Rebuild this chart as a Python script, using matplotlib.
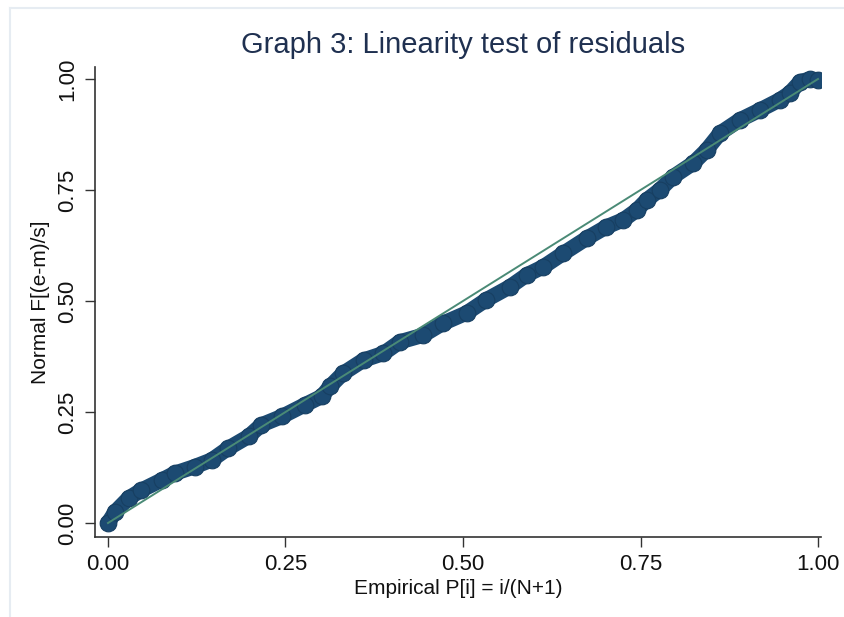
import matplotlib
matplotlib.use("Agg")
import matplotlib.pyplot as plt
from matplotlib.lines import Line2D

# Empirical P[i] (x) and Normal F[(e-m)/s] (y)
emp_p = [0.000, 0.010, 0.029, 0.047, 0.076, 0.094, 0.122, 0.146, 0.169, 0.198,
         0.216, 0.245, 0.277, 0.301, 0.313, 0.331, 0.360, 0.388, 0.411, 0.444,
         0.472, 0.505, 0.533, 0.566, 0.590, 0.613, 0.641, 0.674, 0.702, 0.726,
         0.745, 0.759, 0.777, 0.796, 0.824, 0.843, 0.862, 0.890, 0.918, 0.946,
         0.960, 0.975, 0.989, 1.000]
norm_f = [0.000, 0.025, 0.056, 0.074, 0.097, 0.112, 0.127, 0.142, 0.168, 0.195,
          0.221, 0.240, 0.266, 0.285, 0.308, 0.337, 0.367, 0.382, 0.408, 0.423,
          0.450, 0.473, 0.503, 0.532, 0.559, 0.577, 0.607, 0.641, 0.667, 0.683,
          0.705, 0.728, 0.750, 0.780, 0.810, 0.840, 0.878, 0.908, 0.930, 0.953,
          0.968, 0.994, 1.000, 0.998]
ref_line = [0.0, 1.0]
ticks = [0.0, 0.25, 0.5, 0.75, 1.0]
tick_labels = ["0.00", "0.25", "0.50", "0.75", "1.00"]

plt.rcParams['font.family'] = ['Liberation Sans', 'DejaVu Sans']

W, H = 844, 617
fig = plt.figure(figsize=(W / 100, H / 100), dpi=100)

# faint screenshot frame
fig.add_artist(Line2D([10 / W, 1], [1 - 8 / H, 1 - 8 / H], color='#e6ecf2', lw=1.5))
fig.add_artist(Line2D([10 / W, 10 / W], [0, 1 - 8 / H], color='#e6ecf2', lw=1.5))

left, right, top, bottom = 95, 821, 67, 537
ax = fig.add_axes([left / W, 1 - bottom / H, (right - left) / W, (bottom - top) / H])

navy = '#1c4a72'
green = '#4a8a76'

ax.plot(emp_p, norm_f, color=navy, lw=11, solid_capstyle='round',
        solid_joinstyle='round', zorder=2)
ax.plot(emp_p, norm_f, 'o', color=navy, ms=12, mec='#173f62', mew=0.8, zorder=3)
ax.plot(ref_line, ref_line, color=green, lw=1.4, zorder=4)

ax.set_xlim(-0.0183, 1.0042)
ax.set_ylim(-0.0315, 1.027)
ax.set_xticks(ticks)
ax.set_xticklabels(tick_labels)
ax.set_yticks(ticks)
ax.set_yticklabels(tick_labels, rotation=90, va='center')

for s in ['top', 'right']:
    ax.spines[s].set_visible(False)
for s in ['left', 'bottom']:
    ax.spines[s].set_color('#333333')
    ax.spines[s].set_linewidth(1.2)
ax.tick_params(axis='both', direction='out', length=7, width=1.0, color='#333333',
               labelsize=16, labelcolor='#111111', pad=5)

ax.set_xlabel("Empirical P[i] = i/(N+1)", fontsize=15, color='#111111', labelpad=3)
ax.set_ylabel("Normal F[(e-m)/s]", fontsize=15, color='#111111', labelpad=5)
fig.text(463 / W, 1 - 45 / H, "Graph 3: Linearity test of residuals", ha='center',
         va='center', fontsize=21, color='#1f3050')

fig.savefig("out.png", dpi=100)
